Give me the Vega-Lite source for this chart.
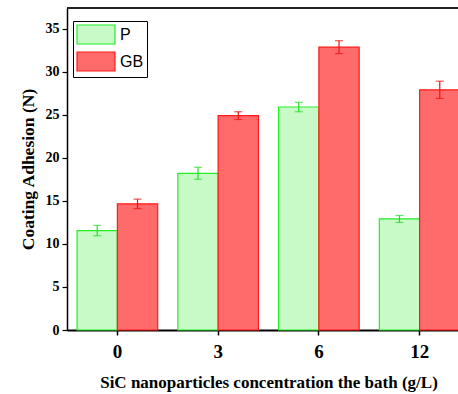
{
  "$schema": "https://vega.github.io/schema/vega-lite/v6.json",
  "width": 391,
  "height": 322,
  "autosize": "none",
  "padding": {"left": 67, "top": 8, "right": 0, "bottom": 64},
  "background": "white",
  "config": {"view": {"stroke": null}},
  "data": {"values": [
    {"conc": "0", "series": "P", "value": 11.55, "err": 0.6},
    {"conc": "0", "series": "GB", "value": 14.65, "err": 0.55},
    {"conc": "3", "series": "P", "value": 18.2, "err": 0.7},
    {"conc": "3", "series": "GB", "value": 24.9, "err": 0.45},
    {"conc": "6", "series": "P", "value": 25.9, "err": 0.55},
    {"conc": "6", "series": "GB", "value": 32.85, "err": 0.75},
    {"conc": "12", "series": "P", "value": 12.9, "err": 0.4},
    {"conc": "12", "series": "GB", "value": 27.9, "err": 1.0}
  ]},
  "layer": [
    {
      "mark": {"type": "bar", "strokeWidth": 1.2},
      "encoding": {
        "x": {
          "field": "conc", "type": "nominal", "sort": ["0", "3", "6", "12"],
          "scale": {"range": [0, 403], "paddingInner": 0.2, "paddingOuter": 0.1},
          "axis": {
            "title": "SiC nanoparticles concentration the bath (g/L)",
            "titleFont": "Liberation Serif", "titleFontSize": 17, "titleFontWeight": "bold", "titleColor": "black",
            "titlePadding": 13,
            "labelFont": "Liberation Serif", "labelFontSize": 19, "labelFontWeight": "bold", "labelColor": "black",
            "labelAngle": 0, "labelPadding": 7,
            "domainColor": "black", "domainWidth": 2,
            "tickColor": "black", "tickWidth": 1.5, "tickSize": 5,
            "grid": false
          }
        },
        "xOffset": {"field": "series", "type": "nominal", "scale": {"domain": ["P", "GB"], "paddingInner": 0, "paddingOuter": 0}},
        "y": {
          "field": "value", "type": "quantitative",
          "scale": {"domain": [0, 37.4], "nice": false},
          "axis": {
            "title": "Coating Adhesion (N)",
            "titleFont": "Liberation Serif", "titleFontSize": 17.5, "titleFontWeight": "bold", "titleColor": "black",
            "titlePadding": 8,
            "labelFont": "Liberation Serif", "labelFontSize": 14, "labelFontWeight": "bold", "labelColor": "black",
            "labelPadding": 3,
            "values": [0, 2.5, 5, 7.5, 10, 12.5, 15, 17.5, 20, 22.5, 25, 27.5, 30, 32.5, 35],
            "labelExpr": "datum.value % 5 === 0 ? datum.label : ''",
            "tickSize": {"condition": {"test": "datum.value % 5 === 0", "value": 5}, "value": 3},
            "tickColor": "black", "tickWidth": 1.2,
            "domainColor": "black", "domainWidth": 1.5,
            "grid": false
          }
        },
        "fill": {
          "field": "series", "type": "nominal",
          "scale": {"domain": ["P", "GB"], "range": ["#c8fac8", "#ff6a6a"]},
          "legend": {"orient": "none", "legendX": 6, "legendY": 13, "title": null,
            "symbolType": "M-1,-1H3V1H-1Z", "symbolSize": 361, "symbolStrokeWidth": 1.2,
            "labelFont": "Liberation Sans", "labelFontSize": 16, "labelColor": "black",
            "strokeColor": "black", "padding": 3, "rowPadding": 2, "labelOffset": 23}
        },
        "stroke": {
          "field": "series", "type": "nominal",
          "scale": {"domain": ["P", "GB"], "range": ["#22ee22", "#ff1a1a"]},
          "legend": {"orient": "none", "legendX": 6, "legendY": 13, "title": null,
            "symbolType": "M-1,-1H3V1H-1Z", "symbolSize": 361, "symbolStrokeWidth": 1.2,
            "labelFont": "Liberation Sans", "labelFontSize": 16, "labelColor": "black",
            "strokeColor": "black", "padding": 3, "rowPadding": 2, "labelOffset": 23}
        }
      }
    },
    {
      "mark": {"type": "errorbar", "ticks": {"size": 8}, "thickness": 1.2},
      "encoding": {
        "x": {"field": "conc", "type": "nominal", "sort": ["0", "3", "6", "12"], "title": "SiC nanoparticles concentration the bath (g/L)"},
        "xOffset": {"field": "series", "type": "nominal"},
        "y": {"field": "value", "type": "quantitative", "title": "Coating Adhesion (N)"},
        "yError": {"field": "err"},
        "color": {"field": "series", "type": "nominal",
          "scale": {"domain": ["P", "GB"], "range": ["#22dd22", "#ee1111"]}, "legend": null}
      }
    },
    {
      "mark": {"type": "rule", "color": "#222222", "strokeWidth": 2},
      "encoding": {"y": {"datum": 37.4}}
    }
  ]
}
